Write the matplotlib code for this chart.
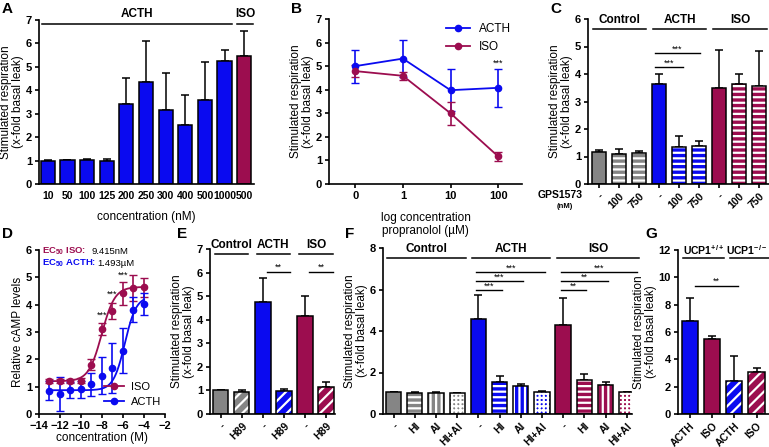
import numpy as np
import matplotlib
matplotlib.use("Agg")
import matplotlib.pyplot as plt
from matplotlib.lines import Line2D

plt.rcParams['font.family'] = ['Liberation Sans', 'DejaVu Sans']
plt.rcParams['font.weight'] = 'bold'
plt.rcParams['font.size'] = 8
plt.rcParams['mathtext.fontset'] = 'custom'
plt.rcParams['mathtext.rm'] = 'Liberation Sans:bold'
plt.rcParams['mathtext.bf'] = 'Liberation Sans:bold'
plt.rcParams['mathtext.default'] = 'rm'
plt.rcParams['axes.linewidth'] = 1.2
plt.rcParams['hatch.linewidth'] = 1.6
plt.rcParams['xtick.major.width'] = 1.2
plt.rcParams['ytick.major.width'] = 1.2
plt.rcParams['xtick.major.size'] = 3
plt.rcParams['ytick.major.size'] = 3
plt.rcParams['xtick.major.pad'] = 2
plt.rcParams['ytick.major.pad'] = 2

BLUE = '#0a0af0'
RED = '#9c0d4f'
GRAY = '#858585'

# ---- data ----
# A: dose response of ACTH (nM) plus ISO 500
a_labels = ['10', '50', '100', '125', '200', '250', '300', '400', '500', '1000', '500']
a_vals = [1.0, 1.02, 1.03, 1.0, 3.4, 4.35, 3.15, 2.5, 3.58, 5.24, 5.47]
a_err = [0.03, 0.02, 0.05, 0.07, 1.13, 1.76, 1.6, 1.32, 1.63, 0.47, 1.05]

# B: propranolol
b_labels = ['0', '1', '10', '100']
b_acth = [5.0, 5.32, 3.98, 4.08]
b_acth_err = [0.7, 0.77, 0.9, 0.8]
b_iso = [4.79, 4.59, 3.0, 1.17]
b_iso_err = [0.27, 0.17, 0.5, 0.19]

# C: GPS1573
c_labels = ['-', '100', '750'] * 3
c_vals = [1.17, 1.1, 1.13, 3.62, 1.36, 1.39, 3.48, 3.65, 3.55]
c_err = [0.07, 0.17, 0.06, 0.38, 0.4, 0.18, 1.38, 0.34, 1.28]

# D: cAMP
d_conc = [-13, -12, -11, -10, -9, -8, -7, -6, -5, -4]
d_iso = [1.2, 1.2, 1.2, 1.22, 1.8, 3.12, 3.77, 4.42, 4.62, 4.63]
d_iso_err = [0.08, 0.08, 0.08, 0.08, 0.2, 0.22, 0.28, 0.42, 0.48, 0.36]
d_acth = [0.85, 0.73, 0.88, 0.9, 1.09, 1.4, 1.68, 2.31, 3.82, 4.03]
d_acth_err = [0.35, 0.62, 0.3, 0.3, 0.42, 0.67, 0.9, 0.82, 0.45, 0.4]
# fit parameters (bottom, top, logEC50, hill)
d_iso_fit = [1.2, 4.65, np.log10(9.415e-9), 0.7]
d_acth_fit = [0.87, 4.3, np.log10(1.493e-6), 0.8]

# E: H89
e_labels = ['-', 'H89'] * 3
e_vals = [1.0, 0.93, 4.76, 0.96, 4.14, 1.16]
e_err = [0.03, 0.09, 0.99, 0.1, 0.88, 0.2]

# F: HI / AI
f_labels = ['-', 'HI', 'AI', 'HI+AI'] * 3
f_vals = [1.05, 1.03, 1.03, 1.01, 4.58, 1.55, 1.33, 1.07, 4.27, 1.64, 1.38, 1.05]
f_err = [0.02, 0.02, 0.05, 0.02, 1.15, 0.28, 0.1, 0.03, 1.3, 0.29, 0.15, 0.03]

# G: UCP1
g_labels = ['ACTH', 'ISO', 'ACTH', 'ISO']
g_vals = [6.84, 5.5, 2.38, 3.04]
g_err = [1.66, 0.2, 1.88, 0.32]

W, H = 769, 447
fig = plt.figure(figsize=(W / 100, H / 100), dpi=100)


def axes_px(x0, y0, x1, y1):
    ax = fig.add_axes([x0 / W, 1 - y1 / H, (x1 - x0) / W, (y1 - y0) / H])
    ax.spines['top'].set_visible(False)
    ax.spines['right'].set_visible(False)
    return ax


def letter(x, y, s):
    fig.text(x / W, 1 - y / H, s, fontsize=11, fontweight='bold', va='top', ha='left')


def bars(ax, vals, err, colors, hatches, width=0.72):
    x = np.arange(len(vals))
    for i in range(len(vals)):
        if hatches[i]:
            ax.bar(x[i], vals[i], width, color=colors[i], edgecolor='white',
                   hatch=hatches[i], linewidth=0, zorder=2)
            ax.bar(x[i], vals[i], width, fill=False, edgecolor='black',
                   linewidth=1.1, zorder=3)
        else:
            ax.bar(x[i], vals[i], width, color=colors[i], edgecolor='black',
                   linewidth=1.1, zorder=2)
    ax.errorbar(x, vals, yerr=[np.zeros(len(vals)), err], fmt='none',
                ecolor='black', elinewidth=1.1, capsize=3, capthick=1.1, zorder=1)
    return x


def rot_labels(ax, labels):
    ax.set_xticks(range(len(labels)))
    ax.set_xticklabels(labels, rotation=45, ha='right', va='top',
                       rotation_mode='anchor', fontsize=7.5)


def group(ax, x0, x1, y, label, ty, fs=8.5, cx=None):
    ax.plot([x0, x1], [y, y], color='black', lw=1.1, clip_on=False)
    if cx is None:
        cx = (x0 + x1) / 2
    ax.text(cx, ty, label, ha='center', va='bottom', fontsize=fs,
            fontweight='bold', clip_on=False)


def sig(ax, x0, x1, y, stars):
    ax.plot([x0, x1], [y, y], color='black', lw=1.0, clip_on=False)
    ax.text((x0 + x1) / 2, y, stars, ha='center', va='bottom', fontsize=6.5,
            fontweight='normal', clip_on=False)


ylab = 'Stimulated respiration\n(x-fold basal leak)'


def set_ylab(ax, text=ylab):
    ax.set_ylabel(text, fontsize=8.5, labelpad=1, linespacing=1.05)


# ---- A ----
ax = axes_px(39, 20, 254, 184)
bars(ax, a_vals, a_err, [BLUE] * 10 + [RED], [None] * 11)
ax.set_xlim(-0.45, 10.5)
ax.set_ylim(0, 7)
ax.set_xticks(range(11))
ax.set_xticklabels(a_labels, fontsize=7.5)
ax.tick_params(axis='x', length=0, pad=5)
set_ylab(ax)
ax.set_xlabel('concentration (nM)', fontsize=8.5, labelpad=7)
group(ax, -0.3, 9.4, 6.83, 'ACTH', 6.98)
group(ax, 9.65, 10.45, 6.83, 'ISO', 6.98)
letter(2, 2, 'A')

# ---- B ----
ax = axes_px(329, 19, 522, 184)
xb = np.arange(4)
ax.errorbar(xb, b_acth, yerr=b_acth_err, color=BLUE, marker='o', ms=4.5,
            lw=1.3, capsize=3, elinewidth=1.2)
ax.errorbar(xb, b_iso, yerr=b_iso_err, color=RED, marker='o', ms=4.5,
            lw=1.3, capsize=3, elinewidth=1.2)
ax.set_xlim(-0.55, 3.5)
ax.set_ylim(0, 7)
ax.set_xticks(xb)
ax.set_xticklabels(b_labels)
set_ylab(ax)
ax.set_xlabel('log concentration\npropranolol (\u00b5M)', fontsize=8.5, labelpad=8,
              linespacing=1.05)
ax.text(3, 4.95, '***', ha='center', va='bottom', fontsize=6.5, fontweight='normal')
hb = [Line2D([], [], color=BLUE, marker='o', ms=4.5, lw=1.3),
      Line2D([], [], color=RED, marker='o', ms=4.5, lw=1.3)]
ax.legend(hb, ['ACTH', 'ISO'], loc='upper right', frameon=False,
          prop={'weight': 'normal', 'size': 8.5}, handlelength=2.0,
          bbox_to_anchor=(1.0, 1.04))
letter(291, 2, 'B')

# ---- C ----
ax = axes_px(588, 19, 769, 184)
c_cols = [GRAY] * 3 + [BLUE] * 3 + [RED] * 3
c_hat = [None, '---', '---'] * 3
bars(ax, c_vals, c_err, c_cols, c_hat)
ax.set_xlim(-0.55, 8.5)
ax.set_ylim(0, 6)
rot_labels(ax, c_labels)
set_ylab(ax)
group(ax, -0.3, 2.35, 5.62, 'Control', 5.75)
group(ax, 2.7, 5.35, 5.62, 'ACTH', 5.75)
group(ax, 5.7, 8.4, 5.62, 'ISO', 5.75)
sig(ax, 2.8, 4.2, 4.24, '***')
sig(ax, 2.8, 5.05, 4.75, '***')
fig.text(583 / W, 1 - 195 / H, 'GPS1573', fontsize=7.5, fontweight='bold', ha='right', va='center')
fig.text(565 / W, 1 - 207 / H, '(nM)', fontsize=5.5, fontweight='bold', ha='center', va='center')
letter(550, 2, 'C')

# ---- D ----
ax = axes_px(39, 250, 165, 414)
xx = np.linspace(-13, -4, 200)
for p, c in [(d_iso_fit, RED), (d_acth_fit, BLUE)]:
    bot, top, ec, hs = p
    ax.plot(xx, bot + (top - bot) / (1 + 10 ** ((ec - xx) * hs)), color=c, lw=1.3)
ax.errorbar(d_conc, d_iso, yerr=d_iso_err, color=RED, fmt='o', ms=4.5,
            capsize=3, elinewidth=1.2)
ax.errorbar(d_conc, d_acth, yerr=d_acth_err, color=BLUE, fmt='o', ms=4.5,
            capsize=3, elinewidth=1.2)
ax.set_xlim(-14, -2)
ax.set_ylim(0, 6)
ax.set_xticks(range(-14, -1, 2))
set_ylab(ax, 'Relative cAMP levels')
ax.set_xlabel('concentration (M)', fontsize=8.5, labelpad=1)
hd = [Line2D([], [], color=RED, marker='o', ms=4.5, lw=1.3),
      Line2D([], [], color=BLUE, marker='o', ms=4.5, lw=1.3)]
ax.legend(hd, ['ISO', 'ACTH'], loc='lower right', frameon=False,
          prop={'weight': 'normal', 'size': 8}, handlelength=1.8,
          handletextpad=0.6, labelspacing=0.5,
          bbox_to_anchor=(1.05, -0.02))
for xs, ys in [(-8, 3.45), (-7, 4.2), (-6, 4.9)]:
    ax.text(xs, ys, '***', ha='center', va='bottom', fontsize=6.5, fontweight='normal')

# EC50 annotations: coloured label followed by black value
renderer = fig.canvas.get_renderer()
for ylev, lab, col, val, xmin_px in [(5.95, 'EC$_{50}$ ISO:', RED, '9.415nM', 91),
                                      (5.5, 'EC$_{50}$ ACTH:', BLUE, '1.493\u00b5M', 0)]:
    t = ax.text(-13.7, ylev, lab, color=col, fontsize=6.8, fontweight='bold', va='center')
    bb = t.get_window_extent(renderer)
    xv = max(bb.x1 + 1, xmin_px)
    fig.text(xv / W, (bb.y0 + bb.y1) / 2 / H, val, color='black', fontsize=6.8,
             fontweight='normal', va='center', ha='left')
letter(2, 227, 'D')

# ---- E ----
ax = axes_px(210, 249, 335, 414)
e_cols = [GRAY] * 2 + [BLUE] * 2 + [RED] * 2
e_hat = [None, '///'] * 3
bars(ax, e_vals, e_err, e_cols, e_hat)
ax.set_xlim(-0.52, 5.43)
ax.set_ylim(0, 7)
rot_labels(ax, e_labels)
set_ylab(ax)
group(ax, -0.3, 1.3, 6.8, 'Control', 6.92)
group(ax, 1.7, 3.3, 6.8, 'ACTH', 6.92)
group(ax, 3.7, 5.35, 6.8, 'ISO', 6.92)
sig(ax, 2.2, 3.3, 6.04, '**')
sig(ax, 4.2, 5.35, 6.04, '**')
letter(177, 227, 'E')

# ---- F ----
ax = axes_px(383, 248, 632, 414)
f_cols = [GRAY] * 4 + [BLUE] * 4 + [RED] * 4
f_hat = [None, '---', '|||', '++++'] * 3
bars(ax, f_vals, f_err, f_cols, f_hat)
ax.set_xlim(-0.5, 11.25)
ax.set_ylim(0, 8)
rot_labels(ax, f_labels)
set_ylab(ax)
group(ax, -0.3, 3.4, 7.52, 'Control', 7.65)
group(ax, 3.7, 7.4, 7.52, 'ACTH', 7.65)
group(ax, 7.7, 11.6, 7.52, 'ISO', 7.65)
sig(ax, 3.9, 5.1, 5.96, '***')
sig(ax, 3.9, 6.1, 6.39, '***')
sig(ax, 3.9, 7.15, 6.83, '***')
sig(ax, 7.9, 9.1, 5.96, '**')
sig(ax, 7.9, 10.1, 6.39, '**')
sig(ax, 7.9, 11.5, 6.83, '***')
letter(345, 227, 'F')

# ---- G ----
ax = axes_px(678, 250, 769, 414)
g_cols = [BLUE, RED, BLUE, RED]
g_hat = [None, None, '///', '///']
bars(ax, g_vals, g_err, g_cols, g_hat)
ax.set_xlim(-0.52, 3.56)
ax.set_ylim(0, 12)
rot_labels(ax, g_labels)
ax.set_yticks(range(0, 13, 2))
set_ylab(ax)
group(ax, -0.3, 1.55, 11.39, 'UCP1$^{+/+}$', 11.5, fs=7.5)
group(ax, 1.8, 3.6, 11.39, 'UCP1$^{-/-}$', 11.5, fs=7.5, cx=2.55)
sig(ax, 0.25, 2.15, 9.37, '**')
letter(645, 227, 'G')

fig.savefig('out.png', dpi=100)
